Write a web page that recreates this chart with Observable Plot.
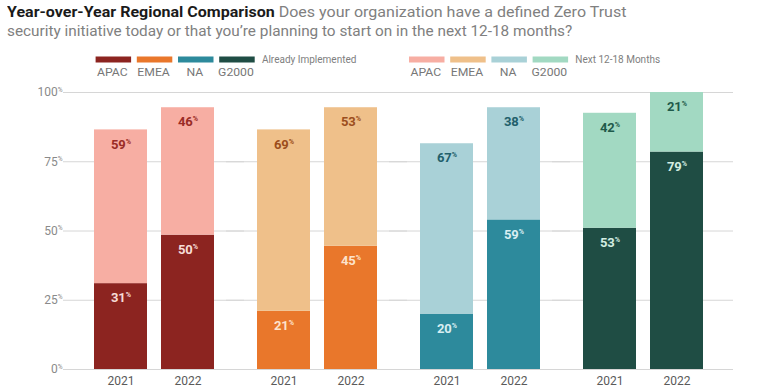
<!DOCTYPE html>
<html><head><meta charset="utf-8">
<script src="https://cdn.jsdelivr.net/npm/d3@7"></script>
<script src="https://cdn.jsdelivr.net/npm/@observablehq/plot@0.6"></script>
<style>
body{margin:0;background:#fff;font-family:Roboto,"Noto Sans",sans-serif}
#wrap{position:relative;width:760px;height:389px;overflow:hidden}
#title{position:absolute;left:7px;top:3px;font-size:14px;line-height:18.7px;color:#808080;white-space:nowrap}
#title div{transform-origin:0 50%}
#title b{color:#1a1a1a;font-weight:700}
#legend{position:absolute;left:0;top:0}
#chart{position:absolute;left:0;top:80px}
</style></head><body>
<div id="wrap">
<div id="title"><div style="transform:scaleX(1.145)"><b>Year-over-Year Regional Comparison</b> Does your organization have a defined Zero Trust</div><div style="transform:scaleX(1.095)">security initiative today or that you’re planning to start on in the next 12-18 months?</div></div>
<svg id="legend" width="760" height="80"></svg>
<div id="chart"></div>
</div>
<script>
// ---- data ----
const regions = ["APAC", "EMEA", "NA", "G2000"];
const years = ["2021", "2022"];
// bar heights as drawn (per region, 2021 then 2022)
const implemented = [31, 48.5, 21, 44.5, 20, 54, 51, 78.5];
const planned = [55.5, 46, 65.5, 50, 61.5, 40.5, 41.5, 21.5];
// printed labels
const implementedLabels = [31, 50, 21, 45, 20, 59, 53, 79];
const plannedLabels = [59, 46, 69, 53, 67, 38, 42, 21];
const yTicks = [0, 25, 50, 75, 100];
const legendGroups = ["Already Implemented", "Next 12-18 Months"];

// ---- styles ----
const darkColors = ["#8c2420", "#e9772b", "#2d8a9c", "#1f4d44"];
const lightColors = ["#f7aea3", "#efc08a", "#a9d1d7", "#a2d9c2"];
const darkText = ["#f6dcd7", "#fde3cc", "#d8eef2", "#d3ede2"];
const lightText = ["#9a2c26", "#9c4e1d", "#22606b", "#1f5a4a"];

const rows = implemented.map((v, i) => {
  const r = Math.floor(i / 2);
  return {
    region: regions[r], year: years[i % 2], ri: r,
    impl: v, total: v + planned[i],
    implLabel: implementedLabels[i], planLabel: plannedLabels[i]
  };
});

const chart = Plot.plot({
  width: 760, height: 309,
  marginTop: 12, marginBottom: 20, marginLeft: 63, marginRight: 25,
  style: {fontFamily: "Roboto, 'Noto Sans', sans-serif", background: "transparent"},
  fx: {domain: regions, paddingInner: 0.258, paddingOuter: 0.19, axis: null},
  x: {domain: years, paddingInner: 0.207, paddingOuter: 0, tickSize: 0, tickPadding: 7, label: null},
  y: {domain: [0, 100], ticks: yTicks, tickSize: 0, tickPadding: 32, tickFormat: d => d + "%", label: null},
  color: {type: "identity"},
  marks: [
    Plot.ruleY(yTicks, {stroke: "#d6d6d6", strokeWidth: 1, insetLeft: -31, insetRight: -29}),
    Plot.barY(rows, {fx: "region", x: "year", y1: 0, y2: "impl", fill: d => darkColors[d.ri]}),
    Plot.barY(rows, {fx: "region", x: "year", y1: "impl", y2: "total", fill: d => lightColors[d.ri]}),
    Plot.text(rows, {fx: "region", x: "year", y: "impl", text: d => d.implLabel + "%", dy: 14.5,
      fill: d => darkText[d.ri], fontWeight: 700, fontSize: 13}),
    Plot.text(rows, {fx: "region", x: "year", y: "total", text: d => d.planLabel + "%", dy: 14.5,
      fill: d => lightText[d.ri], fontWeight: 700, fontSize: 13})
  ]
});
document.getElementById("chart").appendChild(chart);

const svg = d3.select(chart);
svg.selectAll("g[aria-label='y-axis tick label']").attr("fill", "#8a8a8a").attr("font-size", 12);
svg.selectAll("g[aria-label='x-axis tick label']").attr("fill", "#5a5a5a").attr("font-size", 12);
svg.selectAll("text").each(function () {
  const t = this.textContent;
  if (t.endsWith("%")) {
    const s = d3.select(this);
    s.text(t.slice(0, -1));
    s.append("tspan").attr("font-size", "0.55em").attr("dy", "-0.7em").text("%");
  }
});

// ---- legend ----
const lg = d3.select("#legend").attr("font-family", "Roboto, 'Noto Sans', sans-serif");
const groupX = [95.6, 409];
const swW = 35.5, swStep = 41.2;
[darkColors, lightColors].forEach((cols, gi) => {
  const x0 = groupX[gi];
  cols.forEach((c, i) => {
    lg.append("rect").attr("x", x0 + i * swStep).attr("y", 56.5).attr("width", swW).attr("height", 6).attr("fill", c);
    lg.append("text").attr("transform", `translate(${x0 + i * swStep + swW / 2 - 1},75.5) scale(1.22,1)`)
      .attr("text-anchor", "middle").attr("font-size", 10).attr("fill", "#777").text(regions[i]);
  });
  lg.append("text").attr("transform", `translate(${x0 + 4 * swStep + 1.5},63)`)
    .attr("font-size", 10).attr("fill", "#808080").text(legendGroups[gi]);
});
</script>
</body></html>
